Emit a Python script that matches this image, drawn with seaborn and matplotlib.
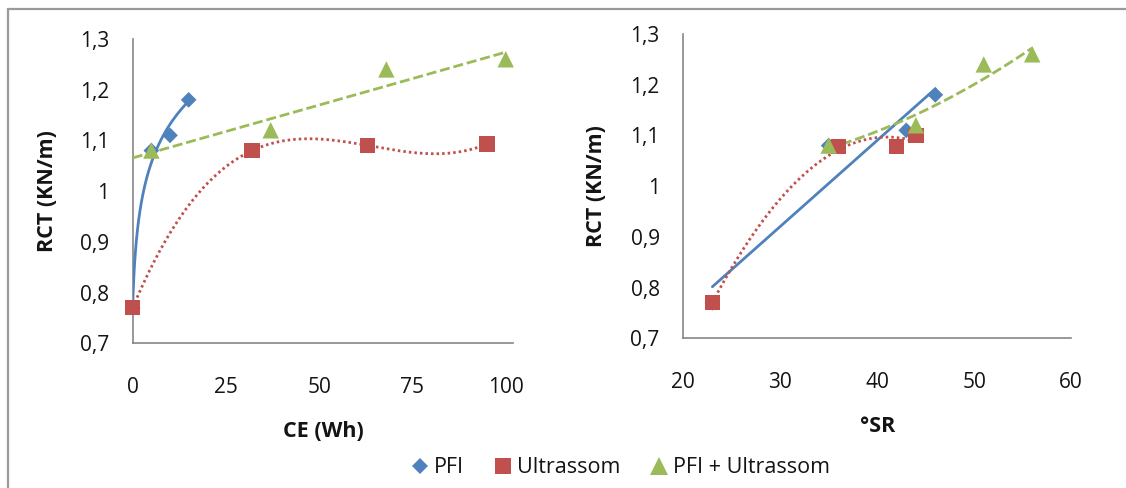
import numpy as np
import pandas as pd
import matplotlib
matplotlib.use("Agg")
import matplotlib.pyplot as plt
import seaborn as sns
from matplotlib.lines import Line2D

# ---------------- data ----------------
series_names = ["PFI", "Ultrassom", "PFI + Ultrassom"]

pfi_ce = [0, 5, 10, 15]
pfi_sr = [23, 35, 43, 46]
pfi_rct = [0.77, 1.08, 1.11, 1.18]

ultra_ce = [0, 32, 63, 95]
ultra_rct_ce = [0.77, 1.08, 1.09, 1.093]
ultra_sr = [23, 36, 42, 44]
ultra_rct_sr = [0.77, 1.078, 1.078, 1.10]

mix_ce = [5, 37, 68, 100]
mix_sr = [35, 44, 51, 56]
mix_rct = [1.08, 1.12, 1.24, 1.26]

y_ticks = [0.7, 0.8, 0.9, 1.0, 1.1, 1.2, 1.3]
y_ticklabels = ["0,7", "0,8", "0,9", "1", "1,1", "1,2", "1,3"]
ce_ticks = [0, 25, 50, 75, 100]
sr_ticks = [20, 30, 40, 50, 60]

# ---------------- style ----------------
sns.set_theme(style="white")
plt.rcParams["font.family"] = ["Open Sans", "DejaVu Sans"]

BLUE = "#4F81BD"
RED = "#C0504D"
GREEN = "#9BBB59"
AXC = "#868686"
TXT = "#141414"

fig = plt.figure(figsize=(11.26, 4.88), dpi=100)
fig.patch.set_facecolor("white")

axL = fig.add_axes([0.11785, 0.29652, 0.3379, 0.62357])
axR = fig.add_axes([0.60684, 0.30676, 0.34432, 0.62357])


def scatter(ax, x, y, marker, color, s):
    df = pd.DataFrame({"x": x, "y": y})
    sns.scatterplot(data=df, x="x", y="y", marker=marker, color=color, s=s,
                    linewidth=0, edgecolor="none", ax=ax, zorder=5,
                    legend=False, clip_on=False)


def trend(ax, xs, ys, color, ls, lw):
    df = pd.DataFrame({"x": xs, "y": ys})
    sns.lineplot(data=df, x="x", y="y", color=color, ax=ax, lw=lw,
                 linestyle=ls, sort=False, estimator=None, zorder=3,
                 legend=False)


DOT = (0, (0.9, 1.1))
DASH = (0, (3.6, 1.4))

# ---- left panel (CE) ----
xb = np.linspace(min(pfi_ce), max(pfi_ce), 100)
cb = np.polyfit(np.log(np.array(pfi_ce) + 0.5), pfi_rct, 1)
trend(axL, xb, np.polyval(cb, np.log(xb + 0.5)), BLUE, "-", 2.0)

xr = np.linspace(min(ultra_ce), max(ultra_ce), 200)
cr = np.polyfit(ultra_ce, ultra_rct_ce, 3)
trend(axL, xr, np.polyval(cr, xr), RED, DOT, 2.0)

xg = np.linspace(0, max(mix_ce), 100)
cg = np.polyfit(mix_ce, mix_rct, 1)
trend(axL, xg, np.polyval(cg, xg), GREEN, DASH, 2.0)

scatter(axL, pfi_ce, pfi_rct, "D", BLUE, 64)
scatter(axL, ultra_ce, ultra_rct_ce, "s", RED, 120)
scatter(axL, mix_ce, mix_rct, "^", GREEN, 140)

# ---- right panel (SR) ----
xb = np.linspace(min(pfi_sr), max(pfi_sr), 100)
cb = np.polyfit(pfi_sr, pfi_rct, 1)
trend(axR, xb, np.polyval(cb, xb), BLUE, "-", 2.0)

xr = np.linspace(min(ultra_sr), max(ultra_sr), 200)
cr = np.polyfit(ultra_sr, ultra_rct_sr, 2)
trend(axR, xr, np.polyval(cr, xr), RED, DOT, 2.0)

xg = np.linspace(min(mix_sr), max(mix_sr), 100)
cg = np.polyfit(mix_sr, mix_rct, 2)
trend(axR, xg, np.polyval(cg, xg), GREEN, DASH, 2.0)

scatter(axR, pfi_sr, pfi_rct, "D", BLUE, 64)
scatter(axR, ultra_sr, ultra_rct_sr, "s", RED, 120)
scatter(axR, mix_sr, mix_rct, "^", GREEN, 140)

# ---- axes formatting ----
for ax, xticks, xlim, xlabel in [
    (axL, ce_ticks, (0, 102), "CE (Wh)"),
    (axR, sr_ticks, (20, 60), "°SR"),
]:
    ax.set_xlim(*xlim)
    ax.set_ylim(0.7, 1.3)
    ax.set_xticks(xticks)
    ax.set_xticklabels([str(t) for t in xticks])
    ax.set_yticks(y_ticks)
    ax.set_yticklabels(y_ticklabels)
    for side in ["top", "right"]:
        ax.spines[side].set_visible(False)
    for side in ["left", "bottom"]:
        ax.spines[side].set_color(AXC)
        ax.spines[side].set_linewidth(1.2)
    ax.tick_params(axis="both", direction="out", length=6, width=1.2,
                   color=AXC, labelsize=15, labelcolor=TXT)
    ax.tick_params(axis="x", pad=18)
    ax.tick_params(axis="y", pad=11)
    ax.set_facecolor("white")
    ax.set_xlabel(xlabel, fontsize=15.5, fontweight="bold", color=TXT)
    ax.set_ylabel("RCT (KN/m)", fontsize=15.5, fontweight="bold", color=TXT)
    ax.xaxis.label.set_va("center")
    ax.yaxis.label.set_va("center")
    ax.xaxis.set_label_coords(0.5, -0.29)
    ax.yaxis.set_label_coords(-0.225, 0.5)
    ax.grid(False)

# ---- legend ----
handles = [
    Line2D([], [], marker="D", color=BLUE, ls="none", ms=8.6, mew=0),
    Line2D([], [], marker="s", color=RED, ls="none", ms=12, mew=0),
    Line2D([], [], marker="^", color=GREEN, ls="none", ms=12.5, mew=0),
]
fig.legend(handles, series_names, loc="center", ncol=3,
           bbox_to_anchor=(0.5502, 0.0416), frameon=False,
           fontsize=15.5, handletextpad=0.15, columnspacing=1.3,
           handlelength=1.0, labelcolor=TXT)

# ---- outer border (top and left) ----
fig.add_artist(Line2D([8 / 1126, 1.0], [1 - 9.3 / 488, 1 - 9.3 / 488],
                      transform=fig.transFigure, color="#9a9a9a", lw=1.6))
fig.add_artist(Line2D([8 / 1126, 8 / 1126], [0, 1 - 9.3 / 488],
                      transform=fig.transFigure, color="#9a9a9a", lw=1.6))

fig.savefig("out.png", dpi=100, facecolor="white")
